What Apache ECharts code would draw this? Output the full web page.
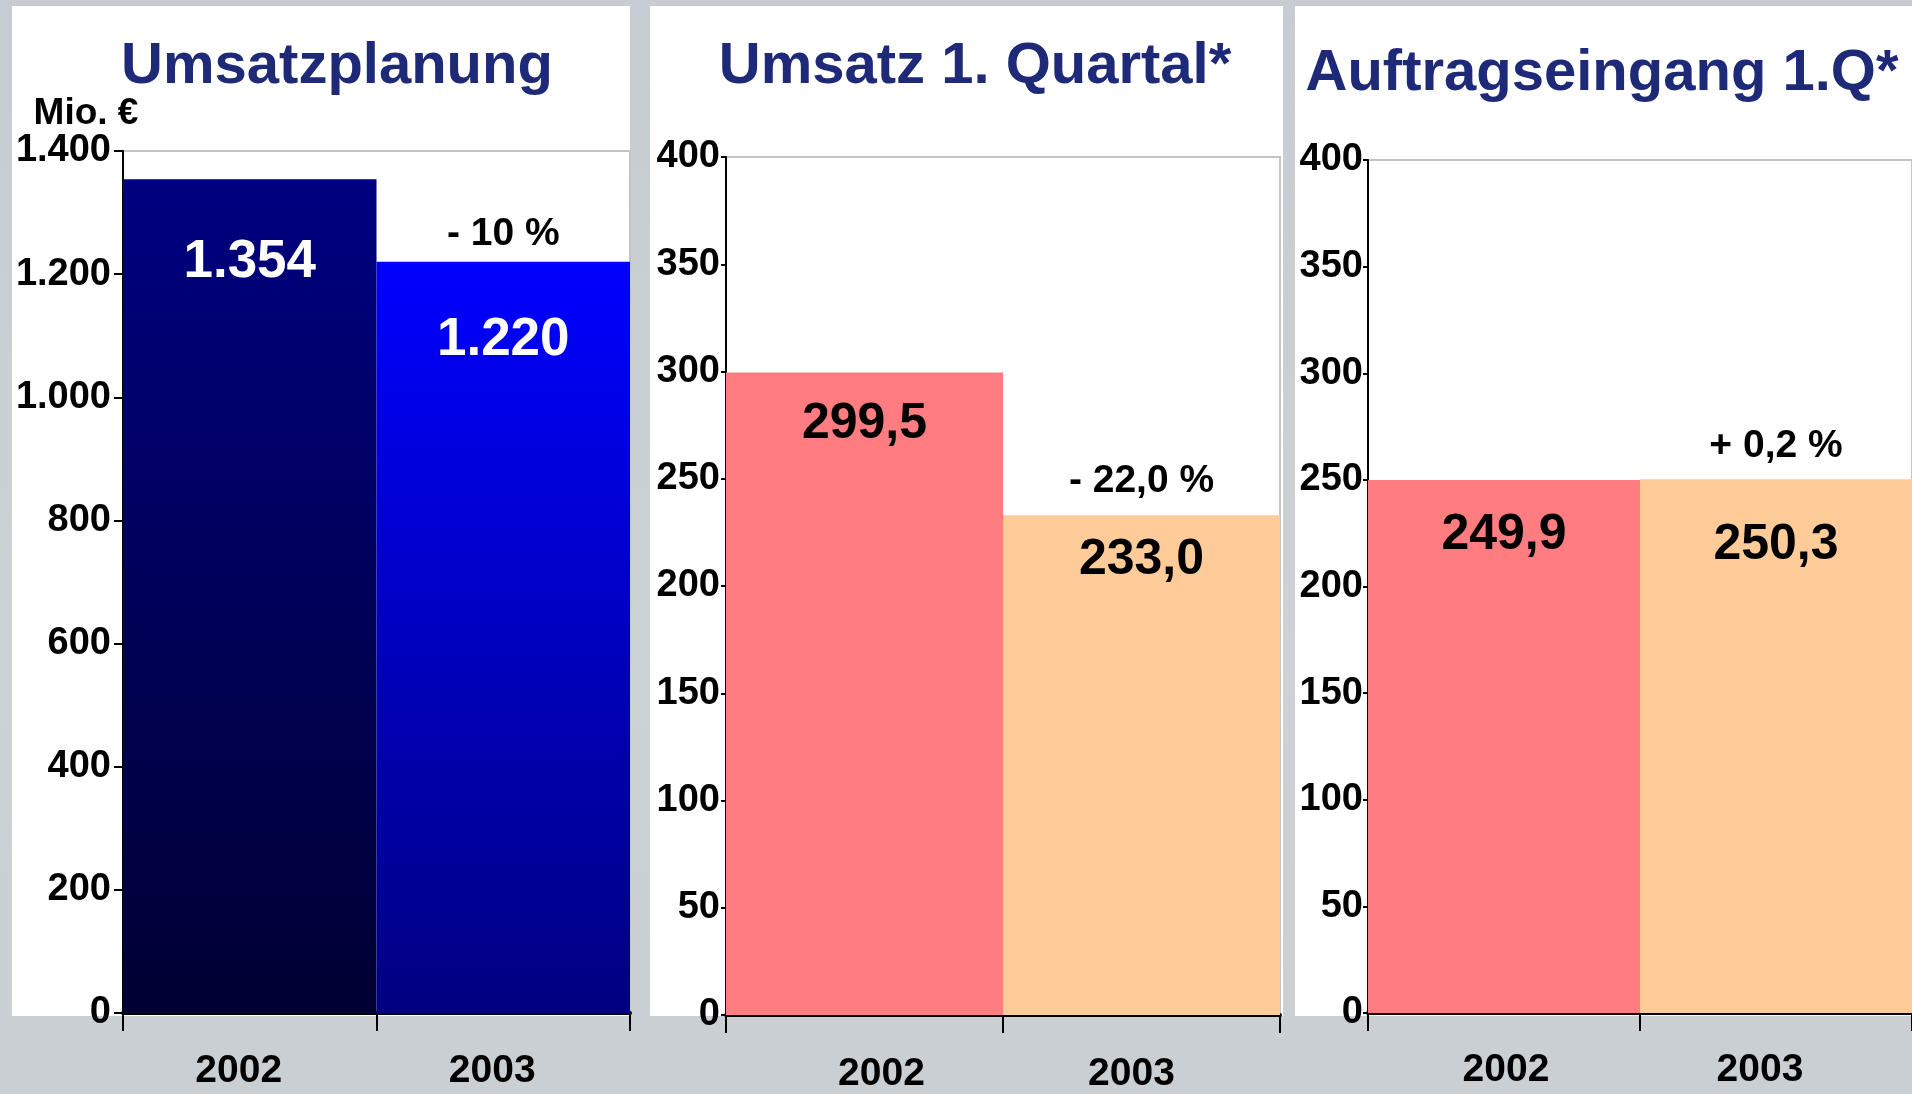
<!DOCTYPE html>
<html>
<head>
<meta charset="utf-8">
<script src="https://cdn.jsdelivr.net/npm/echarts@6/dist/echarts.min.js"></script>
<style>
  html, body { margin: 0; padding: 0; }
  body { background: linear-gradient(180deg, #c6ccd1 0%, #cdd2d5 60%, #c9cfd3 100%); }
  #main { width: 1912px; height: 1094px; }
</style>
</head>
<body>
<div id="main"></div>
<script>
// Daten
var categories = ["2002", "2003"];
var umsatzplanung = [1354, 1220];
var umsatzQ1 = [299.5, 233.0];
var auftragQ1 = [249.9, 250.3];
var changeLabels = ["- 10 %", "- 22,0 %", "+ 0,2 %"];
var titles = ["Umsatzplanung", "Umsatz 1. Quartal*", "Auftragseingang 1.Q*"];

var FONT = "'Liberation Sans', Arial, sans-serif";
var TITLE_COLOR = "#1e2a78";

function fmtThousand(v) {
  var s = String(Math.round(v));
  return s.replace(/\B(?=(\d{3})+(?!\d))/g, ".");
}
function fmtDec(v) {
  return v.toFixed(1).replace(".", ",");
}

var chart = echarts.init(document.getElementById("main"));

// Layout der drei Felder
var grids = [
  { left: 123, top: 151, width: 507, height: 862 },
  { left: 726, top: 157, width: 554, height: 859 },
  { left: 1368, top: 160, width: 544, height: 853 }
];
var panels = [
  { x: 12, y: 6, w: 618, h: 1010 },
  { x: 650, y: 6, w: 633, h: 1010 },
  { x: 1295, y: 6, w: 617, h: 1010 }
];
var titlePos = [[332, 33], [970, 33], [1597, 40]];
// kleine Verschiebung der Jahreszahlen wie im Original (padding [oben, rechts, unten, links])
var yearPad = [
  [[0, 22, 0, 0], [0, 22, 0, 0]],
  [[0, 0, 0, 34], [0, 20, 0, 0]],
  [[0, 0, 0, 4], [0, 32, 0, 0]]
];

function xAxisFor(i, margin) {
  return {
    type: "category", gridIndex: i,
    data: categories.map(function (c, k) { return { value: c, textStyle: { padding: yearPad[i][k] } }; }),
    axisLine: { lineStyle: { color: "#000", width: 4 } },
    axisTick: { show: true, length: 18, lineStyle: { color: "#000", width: 2 } },
    axisLabel: { color: "#000", fontFamily: FONT, fontWeight: "bold", fontSize: 39, margin: margin }
  };
}
function yAxisFor(i, max, interval, tickLen, margin, fmt) {
  return {
    type: "value", gridIndex: i, min: 0, max: max, interval: interval,
    axisLine: { show: true, lineStyle: { color: "#000", width: 2 } },
    axisTick: { show: true, length: tickLen, lineStyle: { color: "#000", width: 2 } },
    splitLine: { show: false },
    axisLabel: { color: "#000", fontFamily: FONT, fontWeight: "bold", fontSize: 38, margin: margin, formatter: fmt }
  };
}

function grad(top, bottom) {
  return new echarts.graphic.LinearGradient(0, 0, 0, 1, [
    { offset: 0, color: top }, { offset: 1, color: bottom }
  ]);
}

function barSeries(i, values, colors, labelColor, fontSize, dists, fmt, changeIdx, changeDist) {
  return {
    type: "bar", xAxisIndex: i, yAxisIndex: i,
    barWidth: "100%", barCategoryGap: "0%",
    data: values.map(function (v, k) {
      return {
        value: v,
        itemStyle: { color: colors[k] },
        label: { distance: dists[k] }
      };
    }),
    label: {
      show: true, position: "insideTop",
      color: labelColor, fontFamily: FONT, fontWeight: "bold", fontSize: fontSize,
      formatter: function (p) { return fmt(p.value); }
    },
    markPoint: {
      symbol: "rect", symbolSize: 0, silent: true,
      data: [{
        coord: [1, values[1]],
        label: {
          show: true, position: "top", distance: changeDist,
          formatter: changeLabels[changeIdx],
          color: "#000", fontFamily: FONT, fontWeight: "bold", fontSize: 39
        }
      }]
    }
  };
}

var graphic = panels.map(function (p) {
  return { type: "rect", shape: { x: p.x, y: p.y, width: p.w, height: p.h }, style: { fill: "#fff" }, z: -10, silent: true };
});

chart.setOption({
  animation: false,
  graphic: graphic,
  title: titles.map(function (t, i) {
    return {
      text: t, left: titlePos[i][0], top: titlePos[i][1], textAlign: "center",
      textStyle: { color: TITLE_COLOR, fontFamily: FONT, fontWeight: "bold", fontSize: 58 }
    };
  }),
  grid: grids.map(function (g) {
    return { left: g.left, top: g.top, width: g.width, height: g.height, show: true,
      backgroundColor: "#fff", borderColor: "#c4c4c4", borderWidth: 2 };
  }),
  xAxis: [xAxisFor(0, 39), xAxisFor(1, 40), xAxisFor(2, 38)],
  yAxis: [
    (function () {
      var a = yAxisFor(0, 1400, 200, 9, 12, fmtThousand);
      a.name = "Mio. €";
      a.nameLocation = "end";
      a.nameGap = 30;
      a.nameTextStyle = { color: "#000", fontFamily: FONT, fontWeight: "bold", fontSize: 37,
        align: "center", verticalAlign: "middle", padding: [0, 74, 0, 0] };
      return a;
    })(),
    yAxisFor(1, 400, 50, 5, 6, function (v) { return v; }),
    yAxisFor(2, 400, 50, 5, 5, function (v) { return v; })
  ],
  series: [
    barSeries(0, umsatzplanung, [grad("#000080", "#000033"), grad("#0000ff", "#000080")],
      "#fff", 53, [57, 52], fmtThousand, 0, 8),
    barSeries(1, umsatzQ1, ["#ff7c80", "#ffcc99"], "#000", 50, [27, 20], fmtDec, 1, 14),
    barSeries(2, auftragQ1, ["#ff7c80", "#ffcc99"], "#000", 50, [30, 41], fmtDec, 2, 13)
  ]
});
</script>
</body>
</html>
